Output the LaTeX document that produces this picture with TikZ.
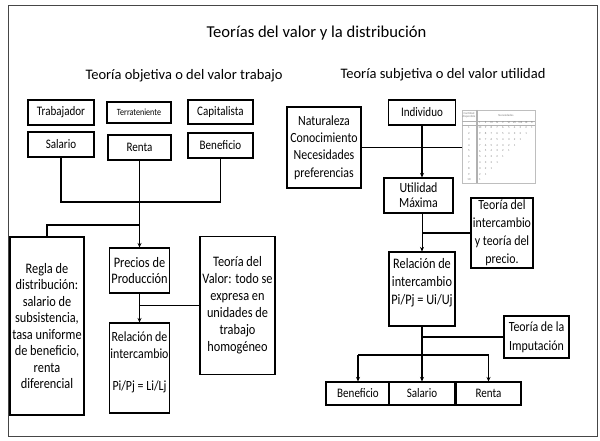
\documentclass[tikz,border=0pt]{standalone}
\usepackage{fontspec}
\setmainfont{Carlito}
\newfontfamily\cajafont[FakeStretch=0.85]{Carlito}
\usetikzlibrary{arrows.meta,positioning,calc}
\definecolor{marco}{RGB}{70,70,70}
\definecolor{tabgris}{RGB}{125,125,125}

\begin{document}
\begin{tikzpicture}[x=1pt, y=-1pt, >={Stealth[length=4.5pt,width=4pt]},
    caja/.style={draw, line width=1.1pt, fill=white, align=center, inner sep=1pt, font=\cajafont\fontsize{14.5}{17}\selectfont},
    cajachica/.style={caja, font=\cajafont\fontsize{13}{15}\selectfont},
    linea/.style={line width=1.1pt},
    tabtxt/.style={text=tabgris, inner sep=0pt, font=\fontsize{3}{3.4}\selectfont}]
    \useasboundingbox (0,0) rectangle (600,441);
    \draw[marco, line width=0.9pt] (8,5) rectangle (597,436);

    % titles
    \node[font=\fontsize{16.6}{19}\selectfont] (titulo) at (316.5,33) {Teorías del valor y la distribución};
    \node[font=\fontsize{14.5}{17}\selectfont] (objetiva) at (184,76) {Teoría objetiva o del valor trabajo};
    \node[font=\fontsize{14.5}{17}\selectfont] (subjetiva) at (443,75) {Teoría subjetiva o del valor utilidad};

    % objective theory
    \node[cajachica, minimum width=66, minimum height=25] (trab) at (61,112.5) {Trabajador};
    \node[caja, minimum width=64, minimum height=21, font=\cajafont\fontsize{9.5}{10}\selectfont] (terr) at (139,112.5) {Terrateniente};
    \node[cajachica, minimum width=65, minimum height=24] (capi) at (220.5,112) {Capitalista};
    \node[cajachica, minimum width=66, minimum height=25] (sal) at (61,144.5) {Salario};
    \node[cajachica, minimum width=63, minimum height=25] (ren) at (139.5,147.5) {Renta};
    \node[cajachica, minimum width=65, minimum height=25] (ben) at (220.5,145.5) {Beneficio};
    \node[caja, minimum width=74, minimum height=178, font=\cajafont\fontsize{14.5}{16.5}\selectfont] (regla) at (47,326) {Regla de\\distribución:\\salario de\\subsistencia,\\tasa uniforme\\de beneficio,\\renta\\diferencial};
    \node[caja, minimum width=60, minimum height=45, font=\cajafont\fontsize{14.5}{15.7}\selectfont] (precios) at (139.5,270.5) {Precios de\\Producción};
    \node[caja, minimum width=60, minimum height=90, font=\cajafont\fontsize{14}{16.7}\selectfont] (rel) at (139.5,368) {Relación de\\intercambio\\[15pt]Pi/Pj = Li/Lj\\[-2.7pt]{}};
    \node[caja, minimum width=75, minimum height=138] (tval) at (237.5,305.5) {Teoría del\\Valor: todo se\\expresa en\\unidades de\\trabajo\\homogéneo};

    \coordinate (junta) at (139.5,202);
    \coordinate (bifur) at (139.5,225);
    \draw[linea] (sal.south) |- (junta) -| (ben.south);
    \draw[linea, ->] (ren.south) -- (precios.north);
    \draw[linea] (bifur) -| (regla.north);
    \draw[linea, ->] (precios.south) -- (rel.north);
    \draw[linea] (tval.west -| precios.south) -- (tval.west);

    % subjective theory
    \node[caja, minimum width=74, minimum height=81, font=\cajafont\fontsize{14}{17.3}\selectfont] (natu) at (324,147.5) {Naturaleza\\Conocimiento\\Necesidades\\preferencias};
    \node[cajachica, minimum width=67, minimum height=25] (indiv) at (422,112.5) {Individuo};
    \node[draw=tabgris!50, line width=0.4pt, minimum width=73, minimum height=73] (tabla) at (498.5,146.5) {};
    \node[caja, minimum width=69, minimum height=35, font=\cajafont\fontsize{14}{15}\selectfont] (util) at (418.5,195.5) {Utilidad\\Máxima};
    \node[caja, minimum width=62, minimum height=70, font=\cajafont\fontsize{14}{18}\selectfont] (tint) at (502,233) {Teoría del\\intercambio\\y teoría del\\precio.};
    \node[caja, minimum width=66, minimum height=74, font=\cajafont\fontsize{14.5}{18}\selectfont] (rel2) at (422,289) {Relación de\\intercambio\\Pi/Pj = Ui/Uj\\[-2pt]{}};
    \node[caja, minimum width=65, minimum height=42, font=\cajafont\fontsize{14}{19}\selectfont] (imput) at (536.5,337) {Teoría de la\\Imputación};
    \node[cajachica, minimum width=64, minimum height=23] (ben2) at (358,393.5) {Beneficio};
    \node[cajachica, minimum width=66, minimum height=23] (sal2) at (422,393.5) {Salario};
    \node[cajachica, minimum width=65, minimum height=23] (ren2) at (488.5,393.5) {Renta};

    % table of needs
    \draw[tabgris!60, line width=0.3pt] (462,121) -- (535,121) (462,125) -- (535,125) (476,110) -- (476,183) (477,110) -- (477,183);
    \node[tabtxt, align=center] (cantidad) at (469,115.5) {Cantidad\\disponible};
    \node[tabtxt] (necesidades) at (506,115) {Necesidades};
    \foreach \c [count=\i] in {I,II,III,IV,V,VI,VII,VIII,IX,X}
        \node[tabtxt] at ({474+5.8*\i},123) {\c};
    \foreach \r in {1,...,10} {
        \node[tabtxt] at (469,{122+5.8*\r}) {\r};
        \pgfmathtruncatemacro\n{11-\r}
        \foreach \c in {1,...,\n} {
            \pgfmathtruncatemacro\v{12-\r-\c}
            \node[tabtxt] at ({474+5.8*\c},{122+5.8*\r}) {\v};
        }
    }

    \draw[linea] (natu.east) -- (natu.east -| tabla.west);
    \draw[linea, ->] (indiv.south) -- (indiv.south |- util.north);
    \draw[line width=0.6pt, ->] (util.south -| rel2.north) -- (rel2.north);
    \draw[linea] (tint.west -| rel2.north) -- (tint.west);
    \draw[linea, ->] (rel2.south) -- (sal2.north);
    \draw[linea] (imput.west -| rel2.south) -- (imput.west);
    \coordinate (ramal) at (422,355);
    \draw[linea] (ben2.north |- ramal) -- (ren2.north |- ramal);
    \draw[linea, ->] (ben2.north |- ramal) -- (ben2.north);
    \draw[linea, ->] (ren2.north |- ramal) -- (ren2.north);
\end{tikzpicture}
\end{document}
